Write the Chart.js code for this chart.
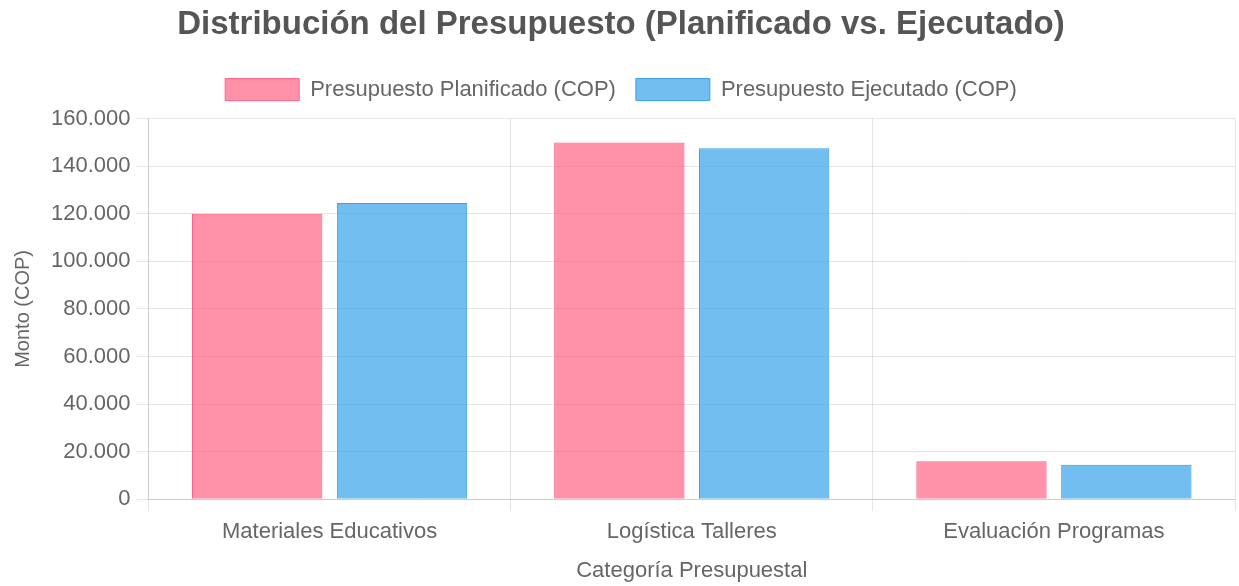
<!DOCTYPE html>
<html>
<head>
<meta charset="utf-8">
<script src="https://cdn.jsdelivr.net/npm/chart.js@4.4.0/dist/chart.umd.min.js"></script>
<style>
  html, body { margin: 0; padding: 0; background: #fff; }
  #wrap { width: 1239px; height: 586px; }
</style>
</head>
<body>
<div id="wrap"><canvas id="budget-chart"></canvas></div>
<script>
// Categorias y montos (COP)
const categorias = ['Materiales Educativos', 'Logística Talleres', 'Evaluación Programas'];
const planificado = [120000, 150000, 16000];
const ejecutado = [124500, 147500, 14500];

const FONT = "'Liberation Sans', Arial, sans-serif";

const data = {
    labels: categorias,
    datasets: [{
        label: 'Presupuesto Planificado (COP)',
        data: planificado,
        backgroundColor: 'rgba(255, 99, 132, 0.7)',
        borderColor: 'rgba(255, 99, 132, 1)',
        borderWidth: 1
    },
    {
        label: 'Presupuesto Ejecutado (COP)',
        data: ejecutado,
        backgroundColor: 'rgba(54, 162, 235, 0.7)',
        borderColor: 'rgba(54, 162, 235, 1)',
        borderWidth: 1
    }]
};

// extra space under the legend
const legendMargin = {
    id: 'legendMargin',
    beforeInit(chart) {
        const fit = chart.legend.fit;
        chart.legend.fit = function() {
            fit.bind(chart.legend)();
            this.height += 8;
        };
    }
};

const config = {
    type: 'bar',
    data: data,
    plugins: [legendMargin],
    options: {
        responsive: true,
        maintainAspectRatio: false,
        animation: false,
        layout: { padding: { left: 7, right: 4, bottom: 0 } },
        plugins: {
            title: {
                display: true,
                text: 'Distribución del Presupuesto (Planificado vs. Ejecutado)',
                color: '#555',
                font: { size: 33, weight: 'bold', family: FONT },
                padding: { top: 5, bottom: 14 }
            },
            legend: {
                labels: {
                    color: '#666',
                    boxWidth: 74,
                    boxHeight: 22,
                    padding: 20,
                    font: { size: 22, family: FONT }
                }
            }
        },
        scales: {
            x: {
                grid: { tickLength: 12 },
                ticks: { color: '#666', padding: 8, font: { size: 22, family: FONT } },
                title: {
                    display: true,
                    text: 'Categoría Presupuestal',
                    color: '#666',
                    padding: { top: 4, bottom: 2 },
                    font: { size: 22, family: FONT }
                }
            },
            y: {
                beginAtZero: true,
                max: 160000,
                grid: { tickLength: 12 },
                ticks: {
                    stepSize: 20000,
                    color: '#666',
                    padding: 6,
                    font: { size: 22, family: FONT },
                    callback: function(value) {
                        return value.toString().replace(/\B(?=(\d{3})+(?!\d))/g, '.');
                    }
                },
                title: {
                    display: true,
                    text: 'Monto (COP)',
                    color: '#666',
                    padding: { top: 4, bottom: 10 },
                    font: { size: 20, family: FONT }
                }
            }
        }
    }
};

window.onload = function() {
    var ctx = document.getElementById('budget-chart').getContext('2d');
    window.budgetChart = new Chart(ctx, config);
};
</script>
</body>
</html>
